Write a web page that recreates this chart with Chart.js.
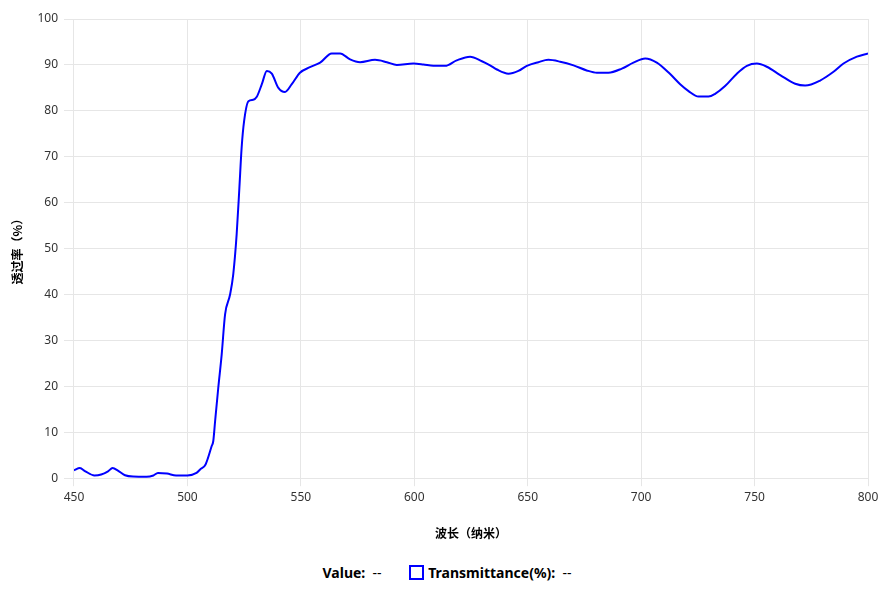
<!DOCTYPE html>
<html lang="zh">
<head>
	<meta charset="UTF-8">
	<title>透过率曲线</title>
	<script src="https://cdn.jsdelivr.net/npm/chart.js"></script>
	<style>
		body {
			margin: 0;
			font-family: "Noto Sans", "Noto Sans CJK SC", sans-serif;
			background: #fff;
		}

		.chart-box {
			position: relative;
			width: 894px;
			height: 550px;
		}

		.legend {
			position: absolute;
			top: 563px;
			left: 0;
			width: 894px;
			text-align: center;
			font-size: 14px;
			color: #000;
		}

		.legend b {
			font-weight: bold;
		}

		.legend .item {
			margin: 0 12px;
		}

		.legend .box {
			display: inline-block;
			width: 11px;
			height: 11px;
			border: 2px solid #0000ff;
			vertical-align: -2px;
			margin-right: 4px;
		}
	</style>
</head>

<body>
	<div class="chart-box">
		<canvas id="transChart"></canvas>
	</div>
	<div class="legend">
		<span class="item"><b>Value:</b>&nbsp;&nbsp;--</span>
		<span class="item"><span class="box"></span><b>Transmittance(%):</b>&nbsp;&nbsp;--</span>
	</div>

	<script>
		// wavelength (nm) and transmittance (%)
		const wavelengths = [450, 452.6, 455, 459, 462, 465, 467, 469.5, 472.5, 476, 482, 485, 487, 491, 495, 500,
			504, 505.6, 508, 510.7, 511.4, 512.2, 513.6, 515.1, 516.6, 518.8, 520.2, 521.7, 522.9, 523.9, 525, 526.9,
			529, 530.5, 532.8, 535, 537.2, 540.1, 543, 546, 549.6, 554, 558.5, 563.6, 567.3, 571.7, 576.1, 582.7,
			587.9, 592.3, 599.6, 604, 608.4, 613.6, 618.7, 624.6, 629.8, 633.4, 636.4, 641.5, 645.9, 649.6, 654.7,
			659.1, 664.3, 670.2, 676, 680.5, 685.6, 691.5, 696.6, 701.8, 706.9, 712.8, 717.2, 720.9, 725.3, 729.7,
			732.6, 737, 742.2, 746.6, 751, 755.4, 761.3, 767.9, 772.3, 778.9, 784.8, 789.2, 795.1, 800];
		const transmittance = [1.7, 2.2, 1.5, 0.6, 0.8, 1.5, 2.2, 1.6, 0.65, 0.35, 0.3, 0.6, 1.15, 1.0, 0.6, 0.6,
			1.15, 1.9, 3.0, 7.0, 8.1, 12.4, 19.7, 26.9, 35.7, 40.0, 44.4, 53.1, 63.2, 72.0, 77.8, 82.1,
			82.4, 83.0, 85.8, 88.7, 88.1, 85.0, 84.1, 85.8, 88.3, 89.5, 90.5, 92.5, 92.5, 91.2, 90.6, 91.1,
			90.6, 90.0, 90.3, 90.1, 89.8, 89.8, 91.0, 91.8, 90.8, 89.9, 89.0, 88.1, 88.7, 89.8, 90.6,
			91.1, 90.7, 89.9, 88.8, 88.3, 88.3, 89.2, 90.5, 91.4, 90.5, 88.0, 85.8, 84.3, 83.1, 83.1,
			83.7, 85.4, 88.1, 89.8, 90.3, 89.6, 87.8, 85.9, 85.5, 86.6, 88.5, 90.3, 91.8, 92.5];
		const xTicks = [450, 500, 550, 600, 650, 700, 750, 800];
		const yTicks = [0, 10, 20, 30, 40, 50, 60, 70, 80, 90, 100];

		const points = wavelengths.map((w, i) => ({ x: w, y: transmittance[i] }));

		const gridColor = '#e6e6e6';
		const tickFont = { family: '"Noto Sans", "Noto Sans CJK SC", sans-serif', size: 12 };
		const titleFont = { family: '"Noto Sans CJK SC", "Noto Sans", sans-serif', size: 12, weight: 'bold' };

		const ctx = document.getElementById('transChart').getContext('2d');
		new Chart(ctx, {
			type: 'line',
			data: {
				datasets: [{
					label: 'Transmittance(%)',
					data: points,
					borderColor: '#0000ff',
					borderWidth: 2,
					pointRadius: 0,
					fill: false,
					cubicInterpolationMode: 'monotone'
				}]
			},
			options: {
				responsive: true,
				maintainAspectRatio: false,
				animation: false,
				layout: { padding: { top: 19, right: 26, bottom: 5, left: 6 } },
				plugins: {
					legend: { display: false },
					tooltip: { enabled: false }
				},
				scales: {
					x: {
						type: 'linear',
						min: 450,
						max: 800,
						afterBuildTicks: axis => { axis.ticks = xTicks.map(v => ({ value: v })); },
						grid: { color: gridColor, tickLength: 8 },
						border: { color: gridColor },
						ticks: { color: '#333', font: tickFont, padding: 4, maxRotation: 0 },
						title: { display: true, text: '波长（纳米）', color: '#000', font: titleFont, padding: { top: 18 } }
					},
					y: {
						min: 0,
						max: 100,
						afterBuildTicks: axis => { axis.ticks = yTicks.map(v => ({ value: v })); },
						grid: { color: gridColor, tickLength: 10 },
						border: { color: gridColor },
						ticks: { color: '#333', font: tickFont, padding: 6 },
						title: { display: true, text: '透过率（%）', color: '#000', font: titleFont, padding: { bottom: 7 } }
					}
				}
			}
		});
	</script>
</body>

</html>
